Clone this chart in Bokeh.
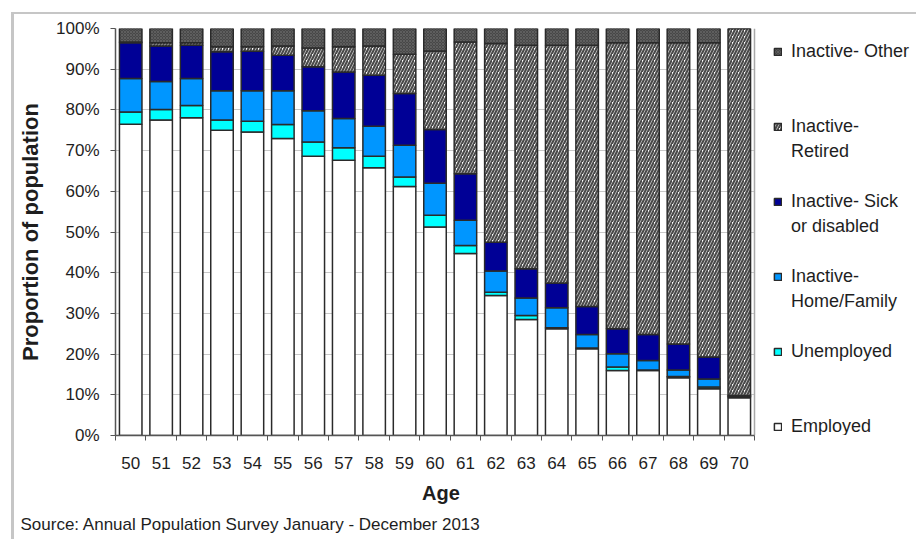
import numpy as np
from bokeh.plotting import figure
from bokeh.models import (Range1d, FixedTicker, PrintfTickFormatter, Legend,
                          LegendItem, Title, BoxAnnotation, Span)
from bokeh.embed import file_html
from bokeh.resources import INLINE

ages = [str(a) for a in range(50, 71)]

employed   = [76.5, 77.5, 78.1, 75.0, 74.6, 73.0, 68.6, 67.6, 65.8, 61.2, 51.2,
              44.7, 34.4, 28.5, 26.2, 21.3, 16.0, 16.0, 14.2, 11.5, 9.3]
unemployed = [3.0, 2.6, 3.0, 2.5, 2.6, 3.4, 3.5, 3.1, 2.8, 2.3, 2.9,
              2.0, 0.8, 1.0, 0.3, 0.2, 0.8, 0.1, 0.3, 0.4, 0.3]
home_family = [8.2, 6.9, 6.6, 7.2, 7.5, 8.3, 7.7, 7.2, 7.4, 7.8, 7.9,
               6.2, 5.2, 4.3, 4.9, 3.3, 3.3, 2.3, 1.6, 2.0, 0.0]
sick_disabled = [8.8, 8.7, 8.2, 9.6, 9.7, 8.7, 10.8, 11.4, 12.5, 12.7, 13.2,
                 11.4, 7.1, 7.2, 6.1, 6.9, 6.1, 6.4, 6.4, 5.4, 0.2]
retired    = [0.2, 0.8, 0.6, 1.2, 1.1, 2.3, 4.6, 6.2, 7.2, 9.7, 19.3,
              32.4, 48.8, 54.9, 58.4, 64.2, 70.3, 71.7, 74.0, 77.2, 90.2]
other      = [3.3, 3.5, 3.5, 4.5, 4.5, 4.3, 4.8, 4.5, 4.3, 6.3, 5.5,
              3.3, 3.7, 4.1, 4.1, 4.1, 3.5, 3.5, 3.5, 3.5, 0.0]

y_ticks = [0, 10, 20, 30, 40, 50, 60, 70, 80, 90, 100]

FONT = "Liberation Sans"
TXT = "#1e1e1e"

W, H = 916, 539
LEFT, BAR_AREA = 115, 639          # pixel layout of the bar area
n = len(ages)
x_lo, x_hi = -0.5, n - 0.5
unit = BAR_AREA / n
x_end = x_lo + (W - LEFT) / unit   # frame extends under the legend area

p = figure(width=W, height=H, x_range=Range1d(x_lo, x_end),
           y_range=Range1d(0, 100), output_backend="svg", toolbar_location=None,
           min_border_left=LEFT, min_border_right=0, min_border_top=28,
           min_border_bottom=104)
p.border_fill_alpha = 0
p.background_fill_color = "white"
p.outline_line_color = None
p.styles = {"background": "linear-gradient(#c6c6c6,#c6c6c6) 11px 12px / 3px 1000px no-repeat, "
                          "linear-gradient(#c6c6c6,#c6c6c6) 11px 12px / 2000px 2px no-repeat, #ffffff"}

xs = np.arange(n)
series = [
    ("Employed", employed, dict(fill_color="white")),
    ("Unemployed", unemployed, dict(fill_color="#00ffff")),
    ("Home", home_family, dict(fill_color="#0096ff")),
    ("Sick", sick_disabled, dict(fill_color="#000096")),
    ("Retired", retired, dict(fill_color="white", hatch_pattern="/", hatch_color="#4a4a4a",
                              hatch_scale=6, hatch_weight=2.2)),
    ("Other", other, dict(fill_color="#484848", hatch_pattern="x", hatch_color="#5e5e5e",
                          hatch_scale=3, hatch_weight=1)),
]
bottom = np.zeros(n)
rend = {}
for name, vals, style in series:
    top = bottom + np.array(vals)
    r = p.vbar(x=xs, bottom=bottom, top=top, width=0.74, line_color="#2a2a2a",
               line_width=1.5, **style)
    rend[name] = r
    bottom = top

# axes
xa = p.xaxis[0]
xa.bounds = (x_lo, x_hi)
xa.ticker = FixedTicker(ticks=list(xs), minor_ticks=[i - 0.5 for i in range(n + 1)])
xa.major_label_overrides = {int(i): a for i, a in zip(xs, ages)}
xa.major_tick_out = 0
xa.major_tick_in = 0
xa.minor_tick_out = 5
xa.minor_tick_in = 0
xa.minor_tick_line_color = "#555555"
xa.axis_line_color = "#555555"
xa.axis_line_width = 1.5
xa.major_label_standoff = 16
xa.major_label_text_font = FONT
xa.major_label_text_font_size = "17px"
xa.major_label_text_color = TXT

ya = p.yaxis[0]
ya.ticker = FixedTicker(ticks=y_ticks, minor_ticks=[])
ya.formatter = PrintfTickFormatter(format="%d%%")
ya.major_tick_out = 5
ya.major_tick_in = 0
ya.minor_tick_out = 0
ya.minor_tick_in = 0
ya.major_tick_line_color = "#555555"
ya.axis_line_color = "#555555"
ya.axis_line_width = 1.5
ya.major_label_standoff = 11
ya.major_label_text_font = FONT
ya.major_label_text_font_size = "17px"
ya.major_label_text_color = TXT
ya.axis_label = "Proportion of population"
ya.axis_label_text_font = FONT
ya.axis_label_text_font_size = "22px"
ya.axis_label_text_font_style = "bold"
ya.axis_label_text_color = TXT
ya.axis_label_standoff = 10

p.xgrid.grid_line_color = None
p.ygrid.grid_line_color = "#c8c8c8"
p.ygrid.grid_line_width = 1

# white area for the legend, right edge of the plot area
p.add_layout(BoxAnnotation(left=x_hi, fill_color="white", fill_alpha=1,
                           line_color=None, level="underlay"))
p.add_layout(Span(location=x_hi, dimension="height", line_color="#a8a8a8",
                  line_width=1.5, level="underlay"))

# legend
rows = [("Inactive- Other", "Other"), (" ", None), (" ", None),
        ("Inactive-", "Retired"), ("Retired", None), (" ", None),
        ("Inactive- Sick", "Sick"), ("or disabled", None), (" ", None),
        ("Inactive-", "Home"), ("Home/Family", None), (" ", None),
        ("Unemployed", "Unemployed"), (" ", None), (" ", None),
        ("Employed", "Employed")]
items = [LegendItem(label=lab, renderers=([rend[k]] if k else [])) for lab, k in rows]
legend = Legend(items=items, location=(BAR_AREA + 19, -2), margin=0, padding=0, ncols=1,
                spacing=4, label_height=21, glyph_height=9, glyph_width=9,
                label_standoff=9, border_line_color=None, background_fill_alpha=0,
                label_text_font=FONT, label_text_font_size="18px",
                label_text_color=TXT)
p.add_layout(legend, "center")

# x-axis title centred under the bars, then the source note
age_title = Title(text="Age", align="left", offset=BAR_AREA / 2 - 13, standoff=17,
                  text_font=FONT, text_font_size="20px", text_font_style="bold",
                  text_color=TXT)
p.add_layout(age_title, "below")
src = Title(text="Source: Annual Population Survey January - December 2013",
            align="left", offset=-95, standoff=0, text_font=FONT,
            text_font_size="17px", text_font_style="normal", text_color=TXT)
p.add_layout(src, "below")

open("out.html", "w").write(file_html(p, INLINE))
